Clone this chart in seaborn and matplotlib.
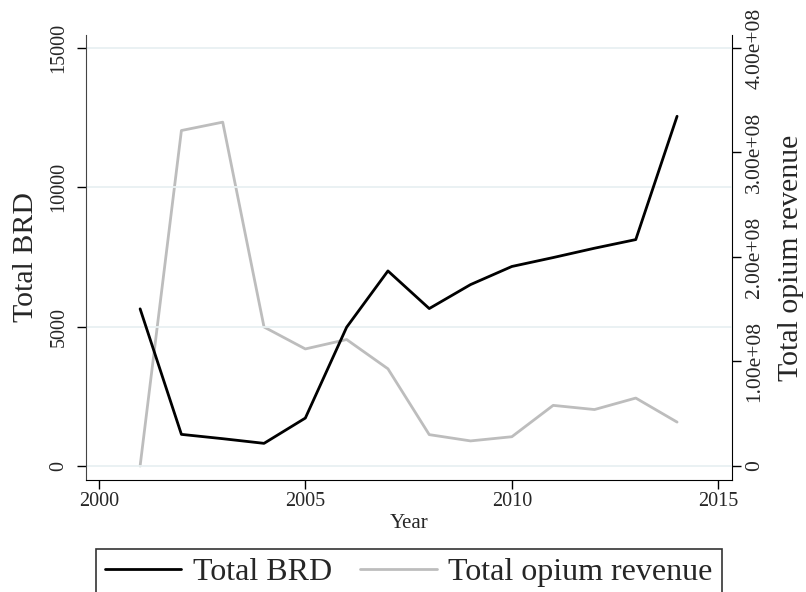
import numpy as np
import pandas as pd
import matplotlib
matplotlib.use("Agg")
import matplotlib.pyplot as plt
from matplotlib.ticker import FuncFormatter
import seaborn as sns

# data
years = [2001, 2002, 2003, 2004, 2005, 2006, 2007, 2008, 2009, 2010, 2011, 2012, 2013, 2014]
total_brd = [5640, 1135, 980, 813, 1720, 4980, 7000, 5650, 6510, 7160, 7480, 7815, 8125, 12550]
opium_revenue = [0.0, 3.21e8, 3.29e8, 1.33e8, 1.12e8, 1.21e8, 0.93e8, 0.30e8, 0.24e8,
                 0.28e8, 0.58e8, 0.54e8, 0.65e8, 0.42e8]

df = pd.DataFrame({"year": years, "brd": total_brd, "opium": opium_revenue})

sns.set_style("white")
plt.rcParams['font.family'] = ['Liberation Serif', 'DejaVu Serif']

fig = plt.figure(figsize=(8.06, 5.92), dpi=100)
ax = fig.add_axes([0.1067, 0.1892, 0.8015, 0.7517])
ax2 = ax.twinx()

grid_col = '#e8f0f2'
for v in [0, 5000, 10000, 15000]:
    ax.axhline(v, color=grid_col, lw=1.3, zorder=0)

sns.lineplot(data=df, x="year", y="brd", ax=ax, color='black', lw=2, label='Total BRD', legend=False)
sns.lineplot(data=df, x="year", y="opium", ax=ax2, color='#bdbdbd', lw=2, label='Total opium revenue', legend=False)
ax.set_zorder(ax2.get_zorder() + 1)
ax.patch.set_visible(False)

ax.set_xlim(1999.69, 2015.33)
ax.set_ylim(-502, 15467)
ax2.set_ylim(-1.34e7, 4.124e8)

ax.set_xticks([2000, 2005, 2010, 2015])
ax.set_yticks([0, 5000, 10000, 15000])
ax2.set_yticks([0, 1e8, 2e8, 3e8, 4e8])
ax2.yaxis.set_major_formatter(FuncFormatter(lambda v, p: '0' if v == 0 else f'{v:.2e}'))

for a in (ax, ax2):
    a.spines['top'].set_visible(False)
    a.tick_params(direction='out', length=6.5, width=1, color='black', labelsize=14.5)
ax.spines['left'].set_color('#444444')
ax.spines['right'].set_visible(False)
ax.spines['bottom'].set_color('black')
ax2.spines['left'].set_visible(False)
ax2.spines['bottom'].set_visible(False)
ax2.spines['right'].set_color('black')
ax.tick_params(axis='x', bottom=True, pad=2)
ax.tick_params(axis='y', left=True, pad=6)
ax2.tick_params(axis='y', right=True, pad=3, labelsize=15.5)
for lab in ax.get_yticklabels():
    lab.set_rotation(90)
    lab.set_va('center')
for lab in ax2.get_yticklabels():
    lab.set_rotation(90)
    lab.set_va('center')

ax.set_xlabel('Year', fontsize=15, labelpad=2)
ax.set_ylabel('Total BRD', fontsize=21.5, labelpad=8)
ax2.set_ylabel('Total opium revenue', fontsize=21.5, labelpad=10)

h1, l1 = ax.get_legend_handles_labels()
h2, l2 = ax2.get_legend_handles_labels()
leg = fig.legend(h1 + h2, l1 + l2, loc='upper center', bbox_to_anchor=(0.507, 0.0726),
                 borderaxespad=0, ncol=2, fontsize=23, frameon=True, fancybox=False,
                 edgecolor='black', handlelength=2.4, handletextpad=0.37,
                 columnspacing=0.87, borderpad=0.28)
leg.get_frame().set_linewidth(1.2)

fig.savefig('out.png', dpi=100)
